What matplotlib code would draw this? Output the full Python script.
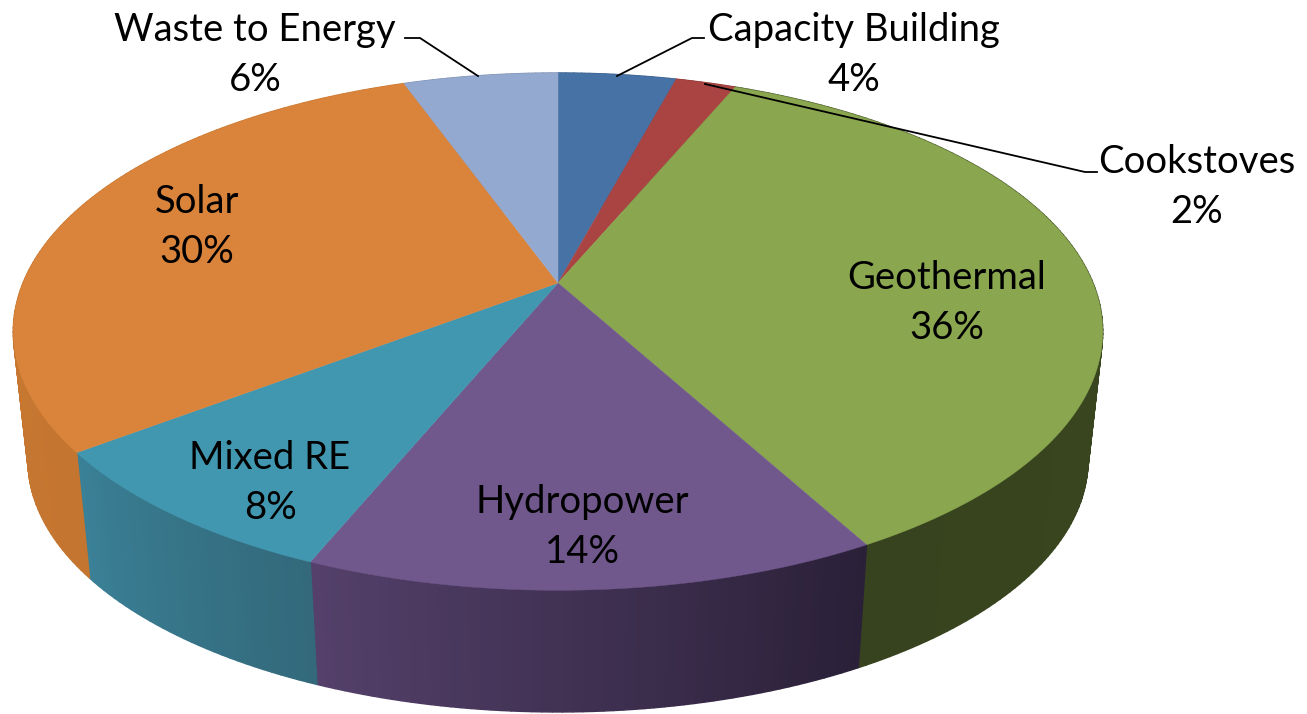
import numpy as np
import matplotlib
matplotlib.use("Agg")
import matplotlib.pyplot as plt
from matplotlib.collections import PolyCollection
from matplotlib.colors import to_rgb

categories = ["Capacity Building", "Cookstoves", "Geothermal", "Hydropower", "Mixed RE", "Solar", "Waste to Energy"]
# slice sizes; they round to the printed labels
shares = [4.2, 2.15, 35.65, 14.25, 8.45, 29.8, 5.5]
top_colors = ["#4672A6", "#A94442", "#8AA64F", "#70578C", "#4297B0", "#D9833B", "#93A9D0"]
side_start = ["#3A5E88", "#8A3635", "#3A4A20", "#2A2038", "#33697B", "#C4752F", "#7A8CAD"]
side_end = ["#3A5E88", "#8A3635", "#37431E", "#54406A", "#3A8096", "#CB7B34", "#7A8CAD"]
label_xy = [(854, 55), (1197, 187), (947, 303), (582, 527), (270, 483), (197, 227), (255, 55)]

plt.rcParams["font.family"] = ["Lato", "DejaVu Sans"]
fig = plt.figure(figsize=(13.07, 7.14), dpi=100)
ax = fig.add_axes([0, 0, 1, 1])
ax.set_xlim(0, 1307)
ax.set_ylim(714, 0)
ax.axis("off")

K, A, B, CX = 0.188, 535.0, 249.5, 558.0


def project(t, cy=283.0, s=1.0):
    u, v = np.sin(t), np.cos(t)
    d = 1 + K * v
    return np.column_stack([CX + s * A * u / d, cy - s * B * v / d])


edges = np.radians(np.cumsum([0] + shares) * 3.6)

# side wall strips
polys, cols = [], []
for i in range(len(shares)):
    ts = np.linspace(edges[i], edges[i + 1], max(8, int(shares[i] * 4)))
    top = project(ts)
    bot = project(ts, cy=413.0, s=0.973)
    c0, c1 = np.array(to_rgb(side_start[i])), np.array(to_rgb(side_end[i]))
    for j in range(len(ts) - 1):
        polys.append([top[j], top[j + 1], bot[j + 1], bot[j]])
        cols.append(c0 + (c1 - c0) * j / (len(ts) - 2))
ax.add_collection(PolyCollection(polys, facecolors=cols, edgecolors=cols, linewidths=1.0))

# top faces
for i in range(len(shares)):
    ts = np.linspace(edges[i], edges[i + 1], 120)
    pts = np.vstack([[CX, 283.0], project(ts)])
    ax.fill(pts[:, 0], pts[:, 1], color=top_colors[i], lw=0.3)

# leader lines
ax.plot([617, 692, 704], [76, 38, 38], color="black", lw=1.3)
ax.plot([478, 420, 405], [76, 38, 38], color="black", lw=1.3)
ax.plot([705, 1085, 1097], [84, 172, 172], color="black", lw=1.3)

for name, val, (x, y) in zip(categories, shares, label_xy):
    ax.text(x, y, f"{name}\n{val:.0f}%", ha="center", va="center", fontsize=27.5, color="black", linespacing=1.5)

fig.savefig("out.png", dpi=100)
